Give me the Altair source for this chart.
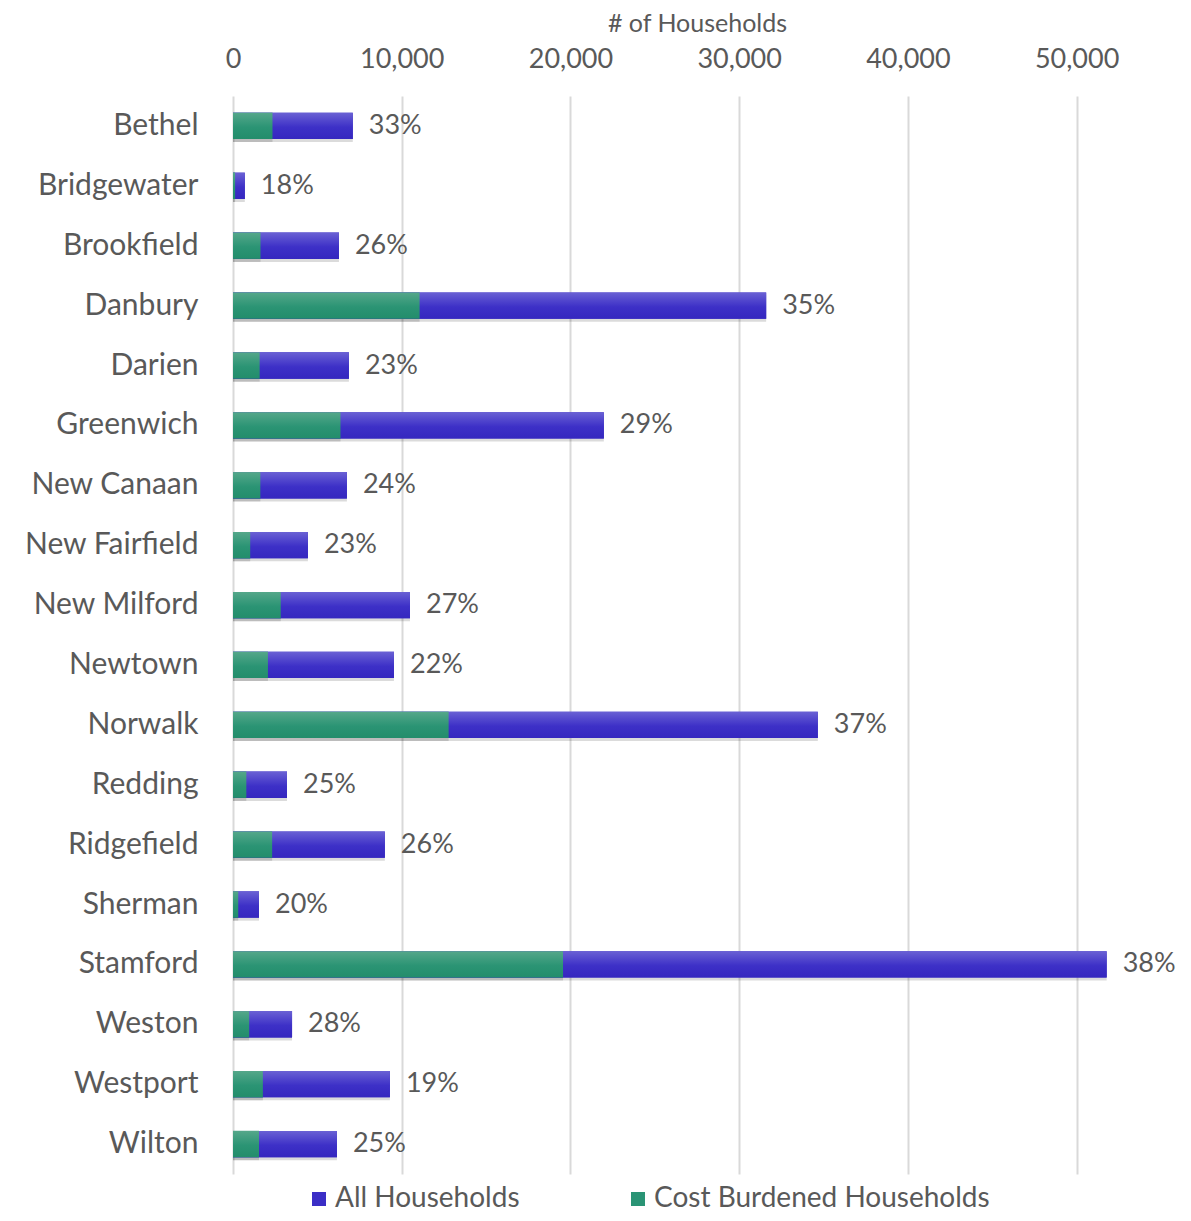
import altair as alt
import pandas as pd

towns = ["Bethel", "Bridgewater", "Brookfield", "Danbury", "Darien", "Greenwich",
         "New Canaan", "New Fairfield", "New Milford", "Newtown", "Norwalk", "Redding",
         "Ridgefield", "Sherman", "Stamford", "Weston", "Westport", "Wilton"]
all_households = [7100, 700, 6280, 31600, 6870, 21980, 6750, 4440, 10490, 9540,
                  34660, 3200, 9000, 1540, 51780, 3500, 9300, 6160]
cost_burdened = [2340, 126, 1630, 11060, 1580, 6370, 1620, 1020, 2830, 2070,
                 12780, 790, 2320, 310, 19560, 960, 1770, 1540]
pct_labels = ["33%", "18%", "26%", "35%", "23%", "29%", "24%", "23%", "27%", "22%",
              "37%", "25%", "26%", "20%", "38%", "28%", "19%", "25%"]
tick_values = [0, 10000, 20000, 30000, 40000, 50000]
series = ["All Households", "Cost Burdened Households"]
colors = ["#3B2EC6", "#2A9475"]

rows = []
for t, a, c in zip(towns, all_households, cost_burdened):
    rows.append({"town": t, "series": series[0], "value": a})
    rows.append({"town": t, "series": series[1], "value": c})
df = pd.DataFrame(rows)
lab = pd.DataFrame({"town": towns, "value": all_households, "pct": pct_labels})
df_all = df[df.series == series[0]]
df_cb = df[df.series == series[1]]

FONT = "Lato"
GRAY = "#595959"

y = alt.Y("town:N", sort=towns, title=None,
          scale=alt.Scale(paddingInner=0.56, paddingOuter=0.28),
          axis=alt.Axis(labelFontSize=30, labelColor=GRAY, labelFont=FONT,
                        labelPadding=35, ticks=False, domain=False, grid=False,
                        labelLimit=400))
x = alt.X("value:Q", title="# of Households", stack=None,
          scale=alt.Scale(domain=[0, 55000], nice=False),
          axis=alt.Axis(orient="top", values=tick_values, format=",d",
                        labelFontSize=27, labelColor=GRAY, labelFont=FONT,
                        titleFontSize=25, titleColor=GRAY, titleFont=FONT,
                        titleFontWeight="normal", titlePadding=9,
                        labelPadding=23, ticks=False, domain=False,
                        grid=True, gridColor="#d9d9d9", gridWidth=2,
                        labelFlush=False))

xs = alt.X("value:Q", stack=None)
ys = alt.Y("town:N", sort=towns)

shadow = alt.Chart(df).mark_bar(color="#000000", opacity=0.14, yOffset=3, y2Offset=3,
                                x2Offset=2).encode(x=x, y=y)

bars = alt.Chart(df).mark_bar().encode(
    x=xs, y=ys,
    color=alt.Color("series:N", sort=series,
                    scale=alt.Scale(domain=series, range=colors),
                    legend=alt.Legend(title=None, orient="none", direction="horizontal",
                                      legendX=72, legendY=1089,
                                      labelFontSize=28, labelColor=GRAY, labelFont=FONT,
                                      labelLimit=500,
                                      symbolType="square", symbolSize=196,
                                      symbolStrokeWidth=0, columnPadding=104,
                                      labelOffset=2)),
    order=alt.Order("series:N", sort="ascending"),
)

blue_grad = alt.Gradient(gradient="linear", x1=0, y1=0, x2=0, y2=1,
                         stops=[alt.GradientStop(color="#6A61D4", offset=0),
                                alt.GradientStop(color="#3D30C7", offset=0.55),
                                alt.GradientStop(color="#3527BF", offset=1)])
green_grad = alt.Gradient(gradient="linear", x1=0, y1=0, x2=0, y2=1,
                          stops=[alt.GradientStop(color="#55A78A", offset=0),
                                 alt.GradientStop(color="#2B9474", offset=0.55),
                                 alt.GradientStop(color="#238D6B", offset=1)])

g_all = alt.Chart(df_all).mark_bar(color=blue_grad).encode(x=xs, y=ys)
g_cb = alt.Chart(df_cb).mark_bar(color=green_grad).encode(x=xs, y=ys)

text = alt.Chart(lab).mark_text(align="left", baseline="middle", dx=16,
                                fontSize=27, color=GRAY, font=FONT).encode(
    x=alt.X("value:Q"), y=ys, text="pct:N")

chart = alt.layer(shadow, bars, g_all, g_cb, text).properties(
    width=928, height=1078,
    autosize=alt.AutoSizeParams(type="none"),
    padding={"left": 225, "top": 88, "right": 20, "bottom": 39},
).configure(background="white", view=alt.ViewConfig(stroke=None))

chart.save("out.html", embed_options={"renderer": "svg", "actions": False})
